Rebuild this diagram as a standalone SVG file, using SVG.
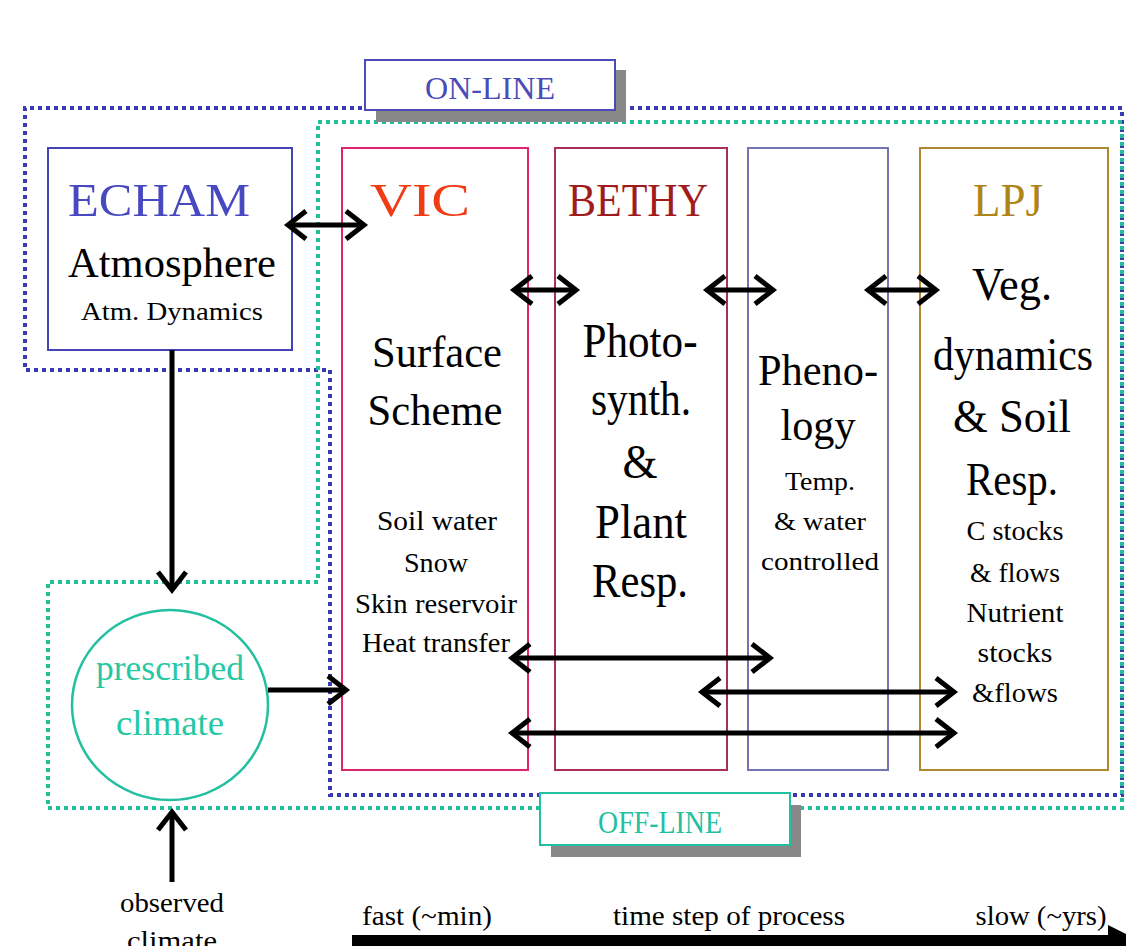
<svg xmlns="http://www.w3.org/2000/svg" width="1126" height="946" viewBox="0 0 1126 946">
<style>
text{font-family:"Liberation Serif","Times New Roman",serif;text-anchor:middle;fill:#000}
.big{font-size:46px}
.mid{font-size:28px}
.dotb{fill:none;stroke:#3a3ab4;stroke-width:4;stroke-dasharray:4 4}
.dott{fill:none;stroke:#22c098;stroke-width:4;stroke-dasharray:4 4}
.box{fill:none;stroke-width:2}
.arr{fill:none;stroke:#000;stroke-width:5;marker-end:url(#ah);marker-start:url(#ah)}
.arr1{fill:none;stroke:#000;stroke-width:5;marker-end:url(#ah)}
</style>
<defs>
<marker id="ah" markerUnits="userSpaceOnUse" markerWidth="30" markerHeight="40" refX="22" refY="18" orient="auto-start-reverse" viewBox="0 0 30 40">
<path d="M4,4 L22,18 L4,32" fill="none" stroke="#000" stroke-width="5"/>
</marker>
</defs>
<rect width="1126" height="946" fill="#fff"/>
<g id="regions">
<path class="dotb" d="M1122,108 H25 V370 H330 V795 H1122 Z"/>
<path class="dott" d="M1122,122 H318 V582 H48 V808 H1122 Z"/>
</g>
<g id="online">
<rect x="376" y="70" width="250" height="52" fill="#888"/>
<rect x="365" y="60" width="250" height="50" fill="#fff" stroke="#4a4ab8" stroke-width="2"/>
<text x="490" y="99" font-size="32" fill="#4a4ab8" style="fill:#4a4ab8" textLength="130" lengthAdjust="spacingAndGlyphs">ON-LINE</text>
</g>
<g id="offline">
<rect x="551" y="805" width="250" height="52" fill="#888"/>
<rect x="540" y="793" width="250" height="52" fill="#fff" stroke="#22c0a0" stroke-width="2"/>
<text x="660" y="833" font-size="32" style="fill:#22c0a0" textLength="124" lengthAdjust="spacingAndGlyphs">OFF-LINE</text>
</g>
<g id="echam">
<rect class="box" x="48" y="148" width="244" height="202" stroke="#4444b4"/>
<text class="big" x="159" y="216" style="fill:#4848c0" textLength="182" lengthAdjust="spacingAndGlyphs">ECHAM</text>
<text x="172" y="277" font-size="42" textLength="208" lengthAdjust="spacingAndGlyphs">Atmosphere</text>
<text x="172" y="320" font-size="26" textLength="182" lengthAdjust="spacingAndGlyphs">Atm. Dynamics</text>
</g>
<g id="vic">
<rect class="box" x="342" y="148" width="186" height="622" stroke="#e2246c"/>
<text class="big" x="420" y="216" style="fill:#f03c14" textLength="100" lengthAdjust="spacingAndGlyphs">VIC</text>
<text x="437" y="367" font-size="44" textLength="130" lengthAdjust="spacingAndGlyphs">Surface</text>
<text x="435" y="425" font-size="44" textLength="135" lengthAdjust="spacingAndGlyphs">Scheme</text>
<text class="mid" x="437" y="530" textLength="120" lengthAdjust="spacingAndGlyphs">Soil water</text>
<text class="mid" x="436" y="572" textLength="64" lengthAdjust="spacingAndGlyphs">Snow</text>
<text class="mid" x="436" y="613" textLength="162" lengthAdjust="spacingAndGlyphs">Skin reservoir</text>
<text class="mid" x="436" y="652" textLength="148" lengthAdjust="spacingAndGlyphs">Heat transfer</text>
</g>
<g id="bethy">
<rect class="box" x="555" y="148" width="172" height="622" stroke="#a83058"/>
<text class="big" x="638" y="216" style="fill:#a01c1c" textLength="140" lengthAdjust="spacingAndGlyphs">BETHY</text>
<text x="640" y="357" font-size="48" textLength="115" lengthAdjust="spacingAndGlyphs">Photo-</text>
<text x="641" y="415" font-size="48" textLength="100" lengthAdjust="spacingAndGlyphs">synth.</text>
<text x="640" y="478" font-size="48" textLength="35" lengthAdjust="spacingAndGlyphs">&amp;</text>
<text x="641" y="538" font-size="48" textLength="92" lengthAdjust="spacingAndGlyphs">Plant</text>
<text x="640" y="597" font-size="48" textLength="96" lengthAdjust="spacingAndGlyphs">Resp.</text>
</g>
<g id="phenology">
<rect class="box" x="748" y="148" width="140" height="622" stroke="#7474b4"/>
<text x="818" y="385" font-size="44" textLength="120" lengthAdjust="spacingAndGlyphs">Pheno-</text>
<text x="818" y="440" font-size="44" textLength="75" lengthAdjust="spacingAndGlyphs">logy</text>
<text x="820" y="490" font-size="26" textLength="70" lengthAdjust="spacingAndGlyphs">Temp.</text>
<text x="820" y="530" font-size="26" textLength="92" lengthAdjust="spacingAndGlyphs">&amp; water</text>
<text x="820" y="570" font-size="26" textLength="118" lengthAdjust="spacingAndGlyphs">controlled</text>
</g>
<g id="lpj">
<rect class="box" x="920" y="148" width="188" height="622" stroke="#b08830"/>
<text class="big" x="1008" y="216" style="fill:#b08418" textLength="70" lengthAdjust="spacingAndGlyphs">LPJ</text>
<text class="big" x="1012" y="300" textLength="80" lengthAdjust="spacingAndGlyphs">Veg.</text>
<text class="big" x="1013" y="370" textLength="160" lengthAdjust="spacingAndGlyphs">dynamics</text>
<text class="big" x="1012" y="432" textLength="118" lengthAdjust="spacingAndGlyphs">&amp; Soil</text>
<text class="big" x="1012" y="495" textLength="92" lengthAdjust="spacingAndGlyphs">Resp.</text>
<text class="mid" x="1015" y="540" textLength="97" lengthAdjust="spacingAndGlyphs">C stocks</text>
<text class="mid" x="1015" y="582" textLength="90" lengthAdjust="spacingAndGlyphs">&amp; flows</text>
<text class="mid" x="1015" y="622" textLength="97" lengthAdjust="spacingAndGlyphs">Nutrient</text>
<text class="mid" x="1015" y="662" textLength="75" lengthAdjust="spacingAndGlyphs">stocks</text>
<text class="mid" x="1015" y="702" textLength="86" lengthAdjust="spacingAndGlyphs">&amp;flows</text>
</g>
<g id="prescribed">
<ellipse cx="170" cy="705" rx="98" ry="95" fill="none" stroke="#22c0a0" stroke-width="2.5"/>
<text x="170" y="680" font-size="36" style="fill:#26c8a4" textLength="148" lengthAdjust="spacingAndGlyphs">prescribed</text>
<text x="170" y="735" font-size="36" style="fill:#26c8a4" textLength="108" lengthAdjust="spacingAndGlyphs">climate</text>
</g>
<g id="observed">
<text class="mid" x="172" y="912" textLength="104" lengthAdjust="spacingAndGlyphs">observed</text>
<text class="mid" x="172" y="950" textLength="90" lengthAdjust="spacingAndGlyphs">climate</text>
</g>
<g id="timescale">
<text class="mid" x="427" y="925" textLength="130" lengthAdjust="spacingAndGlyphs">fast (~min)</text>
<text class="mid" x="729" y="925" textLength="232" lengthAdjust="spacingAndGlyphs">time step of process</text>
<text class="mid" x="1041" y="925" textLength="131" lengthAdjust="spacingAndGlyphs">slow (~yrs)</text>
<rect x="352" y="935" width="762" height="12" fill="#000"/>
<polygon points="1108,925 1140,941 1108,957" fill="#000"/>
</g>
<g id="connectors">
<line class="arr" x1="288" y1="225" x2="364" y2="225"/>
<line class="arr" x1="514" y1="290" x2="576" y2="290"/>
<line class="arr" x1="707" y1="290" x2="773" y2="290"/>
<line class="arr" x1="868" y1="290" x2="936" y2="290"/>
<line class="arr" x1="512" y1="658" x2="770" y2="658"/>
<line class="arr" x1="702" y1="692" x2="954" y2="692"/>
<line class="arr" x1="512" y1="733" x2="954" y2="733"/>
<line class="arr1" x1="172" y1="350" x2="172" y2="590"/>
<line class="arr1" x1="268" y1="690" x2="346" y2="690"/>
<line class="arr1" x1="172" y1="882" x2="172" y2="812"/>
</g>
</svg>
